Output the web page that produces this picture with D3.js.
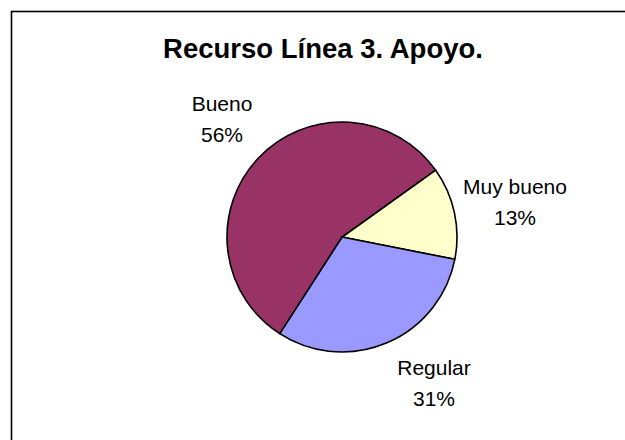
<!DOCTYPE html>
<html>
<head>
<meta charset="utf-8">
<script src="https://cdn.jsdelivr.net/npm/d3@7"></script>
<style>
  html, body { margin: 0; padding: 0; background: #fff; }
  svg { display: block; font-family: "Liberation Sans", Arial, sans-serif; }
</style>
</head>
<body>
<svg id="chart" width="625" height="440"></svg>
<script>
const categories = ["Muy bueno", "Regular", "Bueno"];
const values = [13, 31, 56];
const colors = ["#FFFFCC", "#9999FF", "#993366"];
const titleText = "Recurso Línea 3. Apoyo.";
const labelPos = [[515, 194], [434, 375], [222, 111]];

const svg = d3.select("#chart");

// chart frame (extends beyond right/bottom edges)
svg.append("rect")
  .attr("x", 11.5).attr("y", 11.5)
  .attr("width", 700).attr("height", 500)
  .attr("fill", "#fff").attr("stroke", "#000").attr("stroke-width", 1.6);

svg.append("text")
  .attr("x", 323).attr("y", 58)
  .attr("text-anchor", "middle")
  .attr("font-weight", "bold")
  .attr("font-size", 27.5)
  .attr("fill", "#000")
  .text(titleText);

const cx = 342, cy = 237, r = 115;
const start = 54.4 * Math.PI / 180;
const pie = d3.pie().sort(null).value(d => d)
  .startAngle(start).endAngle(start + 2 * Math.PI);
const arcs = pie(values);
const arc = d3.arc().innerRadius(0).outerRadius(r);

const g = svg.append("g").attr("transform", `translate(${cx},${cy})`);
g.selectAll("path").data(arcs).enter().append("path")
  .attr("d", arc)
  .attr("fill", (d, i) => colors[i])
  .attr("stroke", "#000")
  .attr("stroke-width", 1.6)
  .attr("stroke-linejoin", "round");

const labels = svg.selectAll("g.lbl").data(arcs).enter().append("g").attr("class", "lbl");
labels.append("text")
  .attr("x", (d, i) => labelPos[i][0])
  .attr("y", (d, i) => labelPos[i][1])
  .attr("text-anchor", "middle")
  .attr("font-size", 21)
  .attr("fill", "#000")
  .text((d, i) => categories[i]);
labels.append("text")
  .attr("x", (d, i) => labelPos[i][0])
  .attr("y", (d, i) => labelPos[i][1] + 31)
  .attr("text-anchor", "middle")
  .attr("font-size", 21)
  .attr("fill", "#000")
  .text((d, i) => d3.format(".0%")(values[i] / d3.sum(values)));
</script>
</body>
</html>
